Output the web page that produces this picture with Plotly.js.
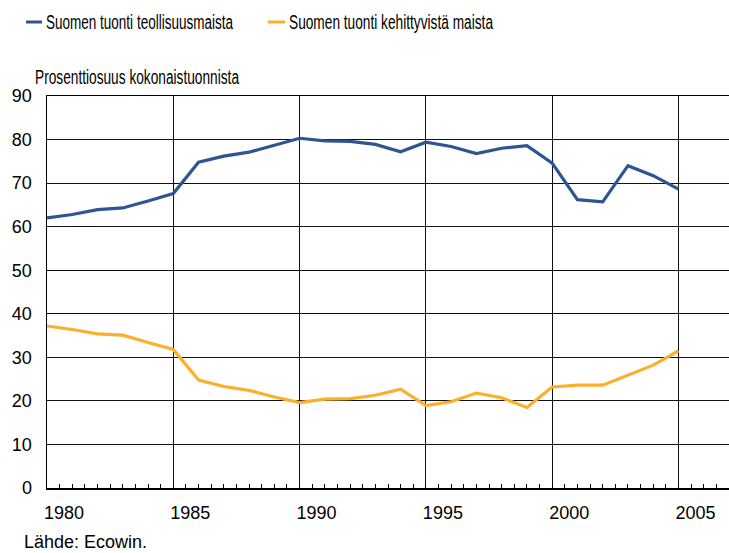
<!DOCTYPE html>
<html><head><meta charset="utf-8">
<script src="https://cdn.plot.ly/plotly-3.0.1.min.js"></script>
<style>html,body{margin:0;padding:0;background:#fff}#chart{width:729px;height:553px}</style>
</head><body><div id="chart"></div>
<script>
const years = [1980,1981,1982,1983,1984,1985,1986,1987,1988,1989,1990,1991,1992,1993,1994,1995,1996,1997,1998,1999,2000,2001,2002,2003,2004,2005];
const teollisuusmaat = [62.0,62.8,63.9,64.3,65.9,67.6,74.8,76.2,77.1,78.7,80.3,79.7,79.6,78.9,77.2,79.4,78.4,76.8,78.0,78.6,74.6,66.2,65.7,74.0,71.7,68.6];
const kehittyvat = [37.2,36.4,35.4,35.1,33.4,31.8,24.8,23.3,22.4,20.9,19.6,20.4,20.5,21.3,22.7,18.9,19.8,21.8,20.7,18.5,23.2,23.6,23.6,25.9,28.2,31.5];
const seriesNames = ["Suomen tuonti teollisuusmaista","Suomen tuonti kehittyvistä maista"];
const colors = ["#2E5592","#FBB02C"];
const yTitle = "Prosenttiosuus kokonaistuonnista";
const source = "Lähde: Ecowin.";

const FONT = "Liberation Sans, Arial, sans-serif";
const L = 47, R = 0, T = 96, B = 65, W = 729, H = 553;
const pw = W - L - R, ph = H - T - B;
const px = x => (x - L) / pw;
const py = y => (H - B - y) / ph;

const traces = [teollisuusmaat, kehittyvat].map((v, i) => ({
  x: years, y: v, type: 'scatter', mode: 'lines', name: seriesNames[i],
  line: {color: colors[i], width: 3.2}, showlegend: false, hoverinfo: 'skip'
}));

// [line start, line end, text start, condensed text width]
const legendX = [[26,42,44,187],[268,285,287,204]];
const shapes = legendX.map((p, i) => ({
  type: 'line', xref: 'paper', yref: 'paper', x0: px(p[0]), x1: px(p[1]), y0: py(22), y1: py(22),
  line: {color: colors[i], width: 3}
}));
const annotations = legendX.map((p, i) => ({
  xref: 'paper', yref: 'paper', x: px(p[2]), y: py(22), xanchor: 'left', yanchor: 'middle', align: 'left',
  text: seriesNames[i], showarrow: false, font: {family: FONT, size: 19.5, color: '#000'}
}));
annotations.push({xref:'paper', yref:'paper', x: px(33), y: py(77), xanchor:'left', yanchor:'middle', align:'left', text: yTitle, showarrow:false, font:{family:FONT,size:19.5,color:'#000'}});
annotations.push({xref:'paper', yref:'paper', x: px(22), y: py(542), xanchor:'left', yanchor:'middle', text: source, showarrow:false, font:{family:FONT,size:18,color:'#000'}});
const condensedWidths = [legendX[0][3], legendX[1][3], 204];

const layout = {
  width: W, height: H, margin: {l: L, r: R, t: T, b: B, pad: 0},
  paper_bgcolor: '#fff', plot_bgcolor: '#fff',
  font: {family: FONT, size: 18, color: '#000'},
  xaxis: {
    range: [1980, 2007], tick0: 1980, dtick: 5, showgrid: true, gridcolor: '#111', gridwidth: 1,
    zeroline: false, showline: true, linecolor: '#000', linewidth: 1.5, mirror: true,
    ticks: 'inside', ticklen: 4, tickcolor: '#000',
    minor: {dtick: 0.5, tick0: 1980, ticks: 'inside', ticklen: 4, tickcolor: '#000', showgrid: false},
    ticklabelshift: 17, ticklabelstandoff: 8,
    tickfont: {family: FONT, size: 18, color: '#000'}
  },
  yaxis: {
    range: [0, 90], tick0: 0, dtick: 10, showgrid: true, gridcolor: '#111', gridwidth: 1,
    zeroline: false, showline: true, linecolor: '#000', linewidth: 1.5,
    ticks: '', ticklabelstandoff: 10,
    tickfont: {family: FONT, size: 18, color: '#000'}
  },
  shapes: shapes, annotations: annotations, showlegend: false
};
Plotly.newPlot('chart', traces, layout, {displayModeBar: false, staticPlot: true}).then(gd => {
  const texts = gd.querySelectorAll('.annotation .annotation-text');
  condensedWidths.forEach((w, i) => {
    const t = texts[i];
    if (t) { t.setAttribute('textLength', w); t.setAttribute('lengthAdjust', 'spacingAndGlyphs'); }
  });
});
</script></body></html>
